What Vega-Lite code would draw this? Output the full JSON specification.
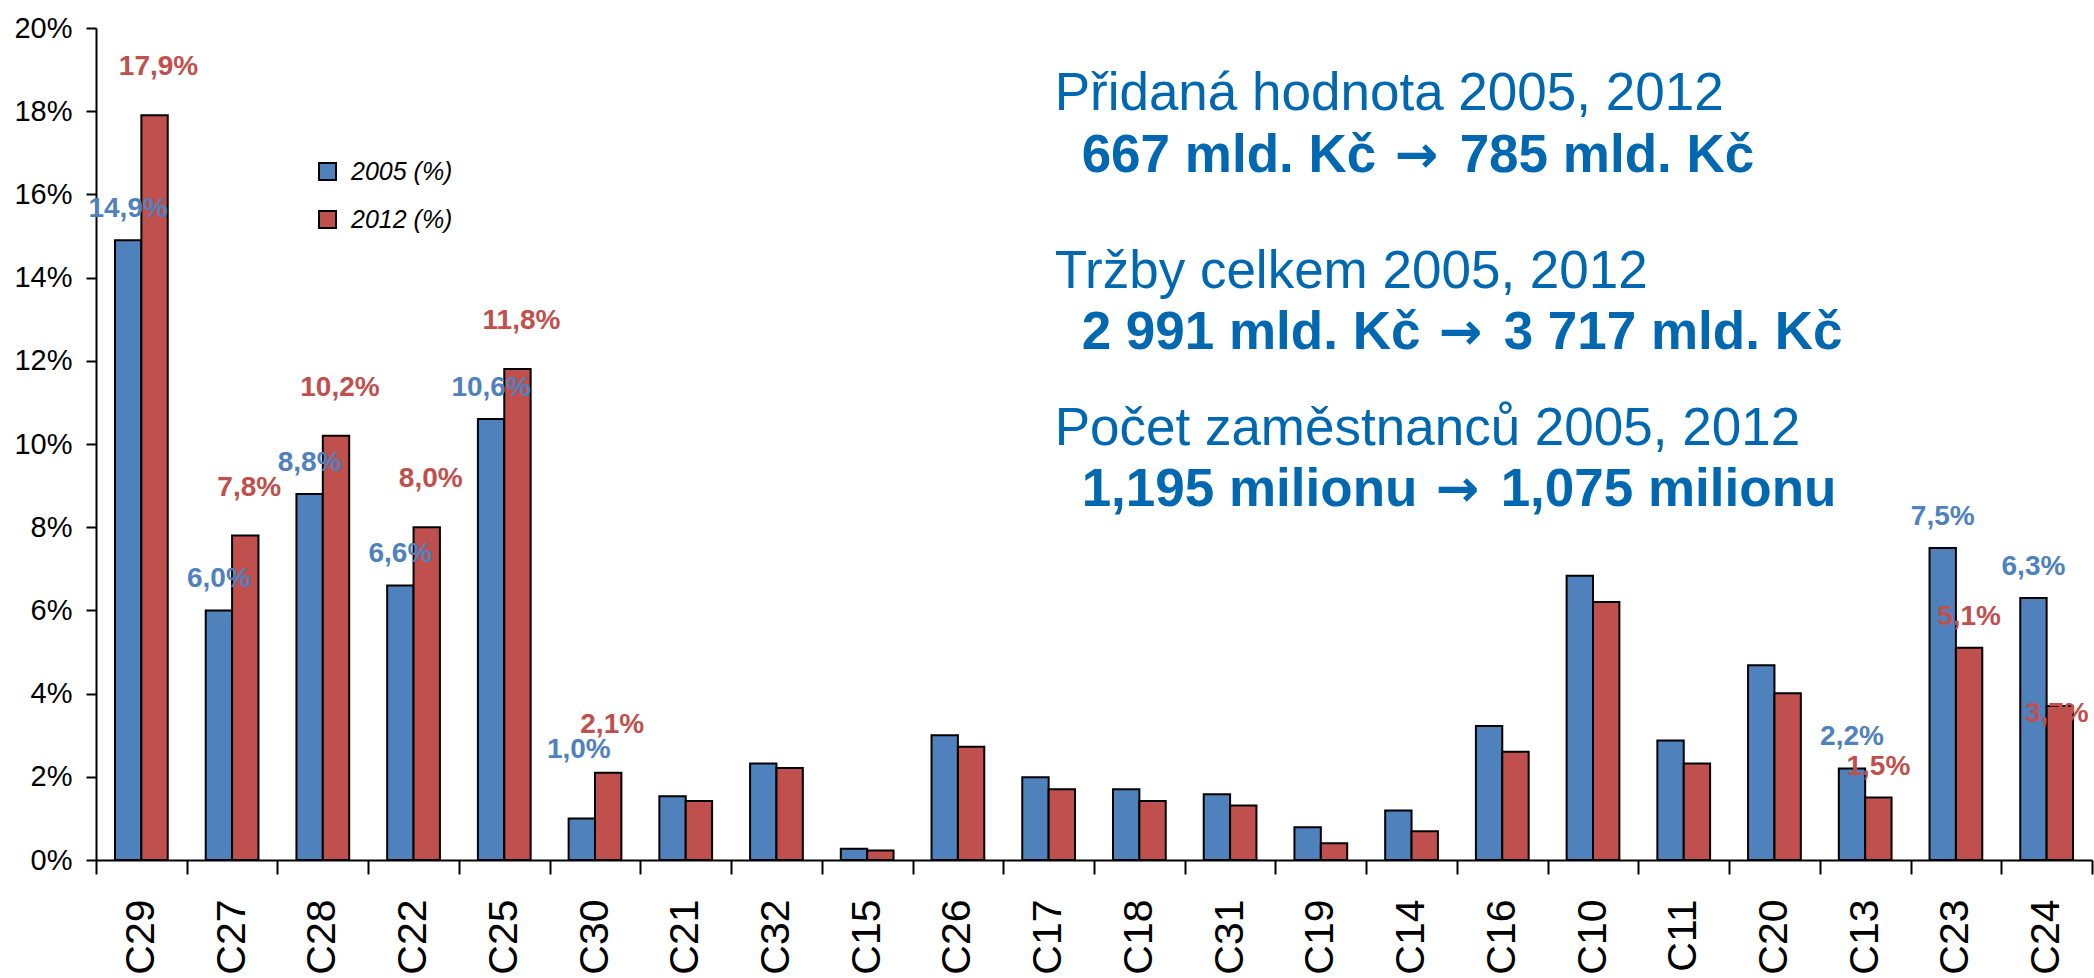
{
  "$schema": "https://vega.github.io/schema/vega-lite/v6.json",
  "width": 1996,
  "height": 832,
  "autosize": {"type": "none"},
  "padding": {"left": 96, "top": 28, "right": 2, "bottom": 118},
  "background": "white",
  "config": {"view": {"stroke": null}, "font": "Liberation Sans"},
  "data": {"values": [
    {"cat": "C29", "year": "2005 (%)", "value": 14.9, "label": "14,9%"},
    {"cat": "C29", "year": "2012 (%)", "value": 17.9, "label": "17,9%"},
    {"cat": "C27", "year": "2005 (%)", "value": 6.0, "label": "6,0%"},
    {"cat": "C27", "year": "2012 (%)", "value": 7.8, "label": "7,8%"},
    {"cat": "C28", "year": "2005 (%)", "value": 8.8, "label": "8,8%"},
    {"cat": "C28", "year": "2012 (%)", "value": 10.2, "label": "10,2%"},
    {"cat": "C22", "year": "2005 (%)", "value": 6.6, "label": "6,6%"},
    {"cat": "C22", "year": "2012 (%)", "value": 8.0, "label": "8,0%"},
    {"cat": "C25", "year": "2005 (%)", "value": 10.6, "label": "10,6%"},
    {"cat": "C25", "year": "2012 (%)", "value": 11.8, "label": "11,8%"},
    {"cat": "C30", "year": "2005 (%)", "value": 1.0, "label": "1,0%"},
    {"cat": "C30", "year": "2012 (%)", "value": 2.1, "label": "2,1%"},
    {"cat": "C21", "year": "2005 (%)", "value": 1.53},
    {"cat": "C21", "year": "2012 (%)", "value": 1.42},
    {"cat": "C32", "year": "2005 (%)", "value": 2.32},
    {"cat": "C32", "year": "2012 (%)", "value": 2.21},
    {"cat": "C15", "year": "2005 (%)", "value": 0.27},
    {"cat": "C15", "year": "2012 (%)", "value": 0.23},
    {"cat": "C26", "year": "2005 (%)", "value": 3.0},
    {"cat": "C26", "year": "2012 (%)", "value": 2.72},
    {"cat": "C17", "year": "2005 (%)", "value": 1.99},
    {"cat": "C17", "year": "2012 (%)", "value": 1.7},
    {"cat": "C18", "year": "2005 (%)", "value": 1.7},
    {"cat": "C18", "year": "2012 (%)", "value": 1.42},
    {"cat": "C31", "year": "2005 (%)", "value": 1.58},
    {"cat": "C31", "year": "2012 (%)", "value": 1.31},
    {"cat": "C19", "year": "2005 (%)", "value": 0.79},
    {"cat": "C19", "year": "2012 (%)", "value": 0.4},
    {"cat": "C14", "year": "2005 (%)", "value": 1.19},
    {"cat": "C14", "year": "2012 (%)", "value": 0.69},
    {"cat": "C16", "year": "2005 (%)", "value": 3.22},
    {"cat": "C16", "year": "2012 (%)", "value": 2.6},
    {"cat": "C10", "year": "2005 (%)", "value": 6.83},
    {"cat": "C10", "year": "2012 (%)", "value": 6.2},
    {"cat": "C11", "year": "2005 (%)", "value": 2.87},
    {"cat": "C11", "year": "2012 (%)", "value": 2.32},
    {"cat": "C20", "year": "2005 (%)", "value": 4.68},
    {"cat": "C20", "year": "2012 (%)", "value": 4.01},
    {"cat": "C13", "year": "2005 (%)", "value": 2.2, "label": "2,2%"},
    {"cat": "C13", "year": "2012 (%)", "value": 1.5, "label": "1,5%"},
    {"cat": "C23", "year": "2005 (%)", "value": 7.5, "label": "7,5%"},
    {"cat": "C23", "year": "2012 (%)", "value": 5.1, "label": "5,1%"},
    {"cat": "C24", "year": "2005 (%)", "value": 6.3, "label": "6,3%"},
    {"cat": "C24", "year": "2012 (%)", "value": 3.7, "label": "3,7%"}
  ]},
  "layer": [
    {
      "mark": {"type": "bar", "stroke": "black", "strokeWidth": 2},
      "encoding": {
        "x": {
          "field": "cat", "type": "nominal", "sort": null,
          "scale": {"paddingInner": 0, "paddingOuter": 0},
          "axis": {
            "title": null, "labelAngle": -90, "labelFontSize": 41, "labelColor": "black",
            "labelPadding": 25, "tickBand": "extent", "tickSize": 14, "tickWidth": 2,
            "tickColor": "black", "domainColor": "black", "domainWidth": 2, "labelBaseline": "middle"
          }
        },
        "xOffset": {"field": "year", "type": "nominal", "scale": {"paddingInner": 0, "paddingOuter": 0.72}},
        "y": {
          "field": "value", "type": "quantitative",
          "scale": {"domain": [0, 20], "nice": false},
          "axis": {
            "title": null, "values": [0, 2, 4, 6, 8, 10, 12, 14, 16, 18, 20], "labelExpr": "datum.value + '%'",
            "labelFontSize": 29, "labelColor": "black", "grid": false, "tickSize": 10, "tickWidth": 2,
            "tickColor": "black", "domainColor": "black", "domainWidth": 2, "labelPadding": 14
          }
        },
        "color": {
          "field": "year", "type": "nominal",
          "scale": {"domain": ["2005 (%)", "2012 (%)"], "range": ["#4F81BD", "#C0504D"]},
          "legend": {
            "title": null, "orient": "none", "legendX": 219, "legendY": 131, "symbolType": "square",
            "symbolSize": 289, "symbolStrokeColor": "black", "symbolStrokeWidth": 2, "symbolOpacity": 1,
            "labelFontSize": 25, "labelFontStyle": "italic", "labelColor": "black", "labelOffset": 11,
            "rowPadding": 22, "padding": 0
          }
        }
      }
    },
    {
      "transform": [{"filter": "isValid(datum.label) && datum.year == '2005 (%)' && datum.cat != 'C30'"}],
      "mark": {"type": "text", "fontSize": 28, "fontWeight": "bold", "color": "#4F81BD", "dy": -23, "baseline": "alphabetic"},
      "encoding": {
        "x": {"field": "cat", "type": "nominal", "sort": null},
        "xOffset": {"field": "year", "type": "nominal"},
        "y": {"field": "value", "type": "quantitative"},
        "text": {"field": "label"}
      }
    },
    {
      "transform": [{"filter": "datum.cat == 'C30' && datum.year == '2005 (%)'"}],
      "mark": {"type": "text", "fontSize": 28, "fontWeight": "bold", "color": "#4F81BD", "dy": -60, "dx": -3, "baseline": "alphabetic"},
      "encoding": {
        "x": {"field": "cat", "type": "nominal", "sort": null},
        "xOffset": {"field": "year", "type": "nominal"},
        "y": {"field": "value", "type": "quantitative"},
        "text": {"field": "label"}
      }
    },
    {
      "transform": [{"filter": "isValid(datum.label) && datum.year == '2012 (%)' && indexof(['C13','C23','C24'], datum.cat) < 0"}],
      "mark": {"type": "text", "fontSize": 28, "fontWeight": "bold", "color": "#C0504D", "dy": -40, "dx": 4, "baseline": "alphabetic"},
      "encoding": {
        "x": {"field": "cat", "type": "nominal", "sort": null},
        "xOffset": {"field": "year", "type": "nominal"},
        "y": {"field": "value", "type": "quantitative"},
        "text": {"field": "label"}
      }
    },
    {
      "transform": [{"filter": "datum.year == '2012 (%)' && (datum.cat == 'C13' || datum.cat == 'C23')"}],
      "mark": {"type": "text", "fontSize": 28, "fontWeight": "bold", "color": "#C0504D", "dy": -23, "baseline": "alphabetic"},
      "encoding": {
        "x": {"field": "cat", "type": "nominal", "sort": null},
        "xOffset": {"field": "year", "type": "nominal"},
        "y": {"field": "value", "type": "quantitative"},
        "text": {"field": "label"}
      }
    },
    {
      "transform": [{"filter": "datum.year == '2012 (%)' && datum.cat == 'C24'"}],
      "mark": {"type": "text", "fontSize": 28, "fontWeight": "bold", "color": "#C0504D", "dy": 16, "dx": -3, "baseline": "alphabetic"},
      "encoding": {
        "x": {"field": "cat", "type": "nominal", "sort": null},
        "xOffset": {"field": "year", "type": "nominal"},
        "y": {"field": "value", "type": "quantitative"},
        "text": {"field": "label"}
      }
    },
    {
      "data": {"values": [{"t": "Přidaná hodnota 2005, 2012"}]},
      "mark": {"type": "text", "fontSize": 53, "color": "#0068B0", "align": "left", "baseline": "alphabetic", "dx": 6},
      "encoding": {"x": {"datum": "C17", "type": "nominal"}, "y": {"datum": 18.03, "type": "quantitative"}, "text": {"field": "t"}}
    },
    {
      "data": {"values": [{"t": "667 mld. Kč"}]},
      "mark": {"type": "text", "fontSize": 53, "fontWeight": "bold", "color": "#0068B0", "align": "left", "baseline": "alphabetic", "dx": 33},
      "encoding": {"x": {"datum": "C17", "type": "nominal"}, "y": {"datum": 16.54, "type": "quantitative"}, "text": {"field": "t"}}
    },
    {
      "data": {"values": [{"t": "→"}]},
      "mark": {"type": "text", "font": "DejaVu Sans", "fontSize": 52, "fontWeight": "bold", "color": "#0068B0", "align": "left", "baseline": "alphabetic", "dx": 346},
      "encoding": {"x": {"datum": "C17", "type": "nominal"}, "y": {"datum": 16.54, "type": "quantitative"}, "text": {"field": "t"}}
    },
    {
      "data": {"values": [{"t": "785 mld. Kč"}]},
      "mark": {"type": "text", "fontSize": 53, "fontWeight": "bold", "color": "#0068B0", "align": "left", "baseline": "alphabetic", "dx": 411},
      "encoding": {"x": {"datum": "C17", "type": "nominal"}, "y": {"datum": 16.54, "type": "quantitative"}, "text": {"field": "t"}}
    },
    {
      "data": {"values": [{"t": "Tržby celkem 2005, 2012"}]},
      "mark": {"type": "text", "fontSize": 53, "color": "#0068B0", "align": "left", "baseline": "alphabetic", "dx": 6},
      "encoding": {"x": {"datum": "C17", "type": "nominal"}, "y": {"datum": 13.75, "type": "quantitative"}, "text": {"field": "t"}}
    },
    {
      "data": {"values": [{"t": "2 991 mld. Kč"}]},
      "mark": {"type": "text", "fontSize": 53, "fontWeight": "bold", "color": "#0068B0", "align": "left", "baseline": "alphabetic", "dx": 33},
      "encoding": {"x": {"datum": "C17", "type": "nominal"}, "y": {"datum": 12.28, "type": "quantitative"}, "text": {"field": "t"}}
    },
    {
      "data": {"values": [{"t": "→"}]},
      "mark": {"type": "text", "font": "DejaVu Sans", "fontSize": 52, "fontWeight": "bold", "color": "#0068B0", "align": "left", "baseline": "alphabetic", "dx": 390},
      "encoding": {"x": {"datum": "C17", "type": "nominal"}, "y": {"datum": 12.28, "type": "quantitative"}, "text": {"field": "t"}}
    },
    {
      "data": {"values": [{"t": "3 717 mld. Kč"}]},
      "mark": {"type": "text", "fontSize": 53, "fontWeight": "bold", "color": "#0068B0", "align": "left", "baseline": "alphabetic", "dx": 455},
      "encoding": {"x": {"datum": "C17", "type": "nominal"}, "y": {"datum": 12.28, "type": "quantitative"}, "text": {"field": "t"}}
    },
    {
      "data": {"values": [{"t": "Počet zaměstnanců 2005, 2012"}]},
      "mark": {"type": "text", "fontSize": 53, "color": "#0068B0", "align": "left", "baseline": "alphabetic", "dx": 6},
      "encoding": {"x": {"datum": "C17", "type": "nominal"}, "y": {"datum": 9.98, "type": "quantitative"}, "text": {"field": "t"}}
    },
    {
      "data": {"values": [{"t": "1,195 milionu"}]},
      "mark": {"type": "text", "fontSize": 53, "fontWeight": "bold", "color": "#0068B0", "align": "left", "baseline": "alphabetic", "dx": 33},
      "encoding": {"x": {"datum": "C17", "type": "nominal"}, "y": {"datum": 8.51, "type": "quantitative"}, "text": {"field": "t"}}
    },
    {
      "data": {"values": [{"t": "→"}]},
      "mark": {"type": "text", "font": "DejaVu Sans", "fontSize": 52, "fontWeight": "bold", "color": "#0068B0", "align": "left", "baseline": "alphabetic", "dx": 387},
      "encoding": {"x": {"datum": "C17", "type": "nominal"}, "y": {"datum": 8.51, "type": "quantitative"}, "text": {"field": "t"}}
    },
    {
      "data": {"values": [{"t": "1,075 milionu"}]},
      "mark": {"type": "text", "fontSize": 53, "fontWeight": "bold", "color": "#0068B0", "align": "left", "baseline": "alphabetic", "dx": 452},
      "encoding": {"x": {"datum": "C17", "type": "nominal"}, "y": {"datum": 8.51, "type": "quantitative"}, "text": {"field": "t"}}
    }
  ]
}
